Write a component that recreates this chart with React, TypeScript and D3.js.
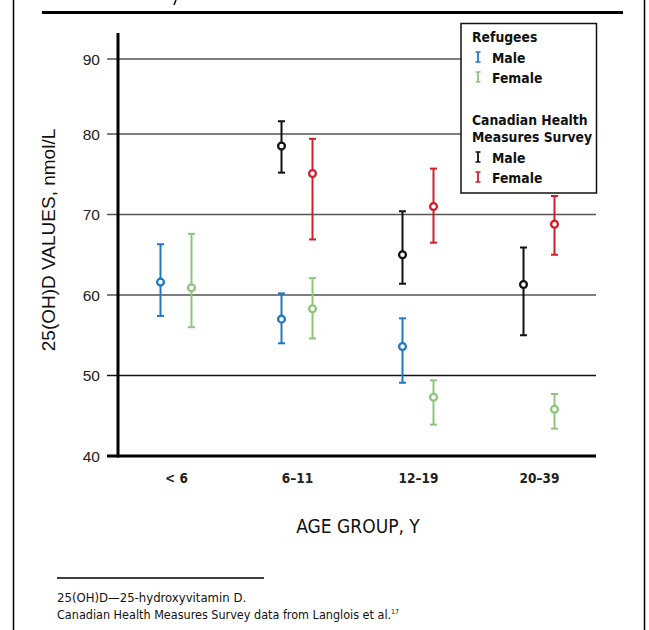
import * as d3 from 'd3';
import React, { useEffect, useRef } from 'react';

// Age groups on the x axis
const ageGroups = ['< 6', '6–11', '12–19', '20–39'];
const yTicks = [40, 50, 60, 70, 80, 90];

// [mean, lower, upper] per age group, null where there is no data
const refugeesMale = [[61.6, 57.4, 66.3], [57.0, 54.0, 60.2], [53.6, 49.1, 57.1], null];
const refugeesFemale = [[60.9, 56.0, 67.6], [58.3, 54.6, 62.1], [47.3, 43.9, 49.4], [45.8, 43.4, 47.7]];
const chmsMale = [null, [78.5, 75.2, 81.7], [65.0, 61.4, 70.4], [61.3, 55.0, 65.9]];
const chmsFemale = [null, [75.1, 66.9, 79.4], [71.0, 66.5, 75.7], [68.8, 65.0, 72.3]];

const BLUE = '#1f78c1';
const GREEN = '#8fc47c';
const RED = '#cf1f2c';
const BLACK = '#111';

const condensed = '"DejaVu Sans Condensed", "DejaVu Sans", sans-serif';
const plain = '"Liberation Sans", Arial, sans-serif';

export default function App() {
  const svgRef = useRef<SVGSVGElement>(null);

  const width = 649;
  const height = 630;

  useEffect(() => {
    const svg = d3.select(svgRef.current);
    svg.selectAll('*').remove();

    // frame
    svg.append('line').attr('x1', 13.5).attr('x2', 13.5).attr('y1', 0).attr('y2', height)
      .attr('stroke', '#000').attr('stroke-width', 1.5);
    svg.append('line').attr('x1', 644.5).attr('x2', 644.5).attr('y1', 0).attr('y2', height)
      .attr('stroke', '#000').attr('stroke-width', 1.5);
    svg.append('line').attr('x1', 42).attr('x2', 623).attr('y1', 12.5).attr('y2', 12.5)
      .attr('stroke', '#000').attr('stroke-width', 3.2);
    // tail of the cut-off title glyph
    svg.append('path').attr('d', 'M176,0 L174,5').attr('stroke', '#000').attr('stroke-width', 1.4);

    const x = d3.scaleBand<string>().domain(ageGroups).range([116, 600]);
    const inner = d3.scalePoint<string>().domain(['left', 'right']).range([-16, 15]);
    const y = d3.scaleLinear().domain([40, 80, 90]).range([456, 134, 59]);

    const left = 118;
    const right = 596;

    // grid + ticks
    const grid = svg.append('g');
    yTicks.filter(t => t > 40).forEach(t => {
      grid.append('line')
        .attr('x1', left - 11).attr('x2', right)
        .attr('y1', y(t)).attr('y2', y(t))
        .attr('stroke', t === 50 ? '#111' : '#555')
        .attr('stroke-width', 1.3);
    });
    svg.append('g').selectAll('text')
      .data(yTicks)
      .enter()
      .append('text')
      .attr('x', 100)
      .attr('y', d => y(d) + 5.5)
      .attr('text-anchor', 'end')
      .attr('font-family', plain)
      .attr('font-size', 15.5)
      .attr('fill', '#222')
      .text(d => d);

    // axes
    svg.append('line').attr('x1', left).attr('x2', left).attr('y1', 33).attr('y2', 457.5)
      .attr('stroke', '#000').attr('stroke-width', 3);
    svg.append('line').attr('x1', left - 11).attr('x2', right).attr('y1', 456).attr('y2', 456)
      .attr('stroke', '#000').attr('stroke-width', 3);

    // x tick labels
    svg.append('g').selectAll('text')
      .data(ageGroups)
      .enter()
      .append('text')
      .attr('x', d => (x(d) as number) + x.bandwidth() / 2)
      .attr('y', 483)
      .attr('text-anchor', 'middle')
      .attr('font-family', condensed)
      .attr('font-weight', 'bold')
      .attr('font-size', 13.5)
      .attr('fill', '#222')
      .text(d => d);

    // axis titles
    svg.append('text')
      .attr('x', 358).attr('y', 533)
      .attr('text-anchor', 'middle')
      .attr('font-family', condensed)
      .attr('font-size', 19)
      .attr('fill', '#111')
      .text('AGE GROUP, Y');
    svg.append('text')
      .attr('transform', 'translate(55,240) rotate(-90)')
      .attr('text-anchor', 'middle')
      .attr('font-family', plain)
      .attr('font-size', 19)
      .attr('fill', '#111')
      .text('25(OH)D VALUES, nmol/L');

    // legend (drawn over grid)
    const lg = svg.append('g');
    lg.append('rect').attr('x', 461).attr('y', 23.5).attr('width', 135.5).attr('height', 169.5)
      .attr('fill', '#fff').attr('stroke', '#111').attr('stroke-width', 1.5);
    const legendText = (tx: number, ty: number, s: string) =>
      lg.append('text').attr('x', tx).attr('y', ty)
        .attr('font-family', condensed).attr('font-weight', 'bold')
        .attr('font-size', 13.8).attr('fill', '#111').text(s);
    const legendIcon = (cy: number, color: string) => {
      lg.append('line').attr('x1', 478).attr('x2', 478).attr('y1', cy - 5).attr('y2', cy + 5)
        .attr('stroke', color).attr('stroke-width', 1.8);
      [cy - 5, cy + 5].forEach(v => {
        lg.append('line').attr('x1', 475.5).attr('x2', 480.5).attr('y1', v).attr('y2', v)
          .attr('stroke', color).attr('stroke-width', 1.5);
      });
    };
    legendText(472, 42, 'Refugees');
    legendIcon(57, BLUE); legendText(492, 63, 'Male');
    legendIcon(77, GREEN); legendText(492, 83, 'Female');
    legendText(472, 125, 'Canadian Health');
    legendText(472, 142, 'Measures Survey');
    legendIcon(157, BLACK); legendText(492, 163, 'Male');
    legendIcon(177, RED); legendText(492, 183, 'Female');

    // error bars
    const series = [
      { data: refugeesMale, color: BLUE, side: 'left' },
      { data: refugeesFemale, color: GREEN, side: 'right' },
      { data: chmsMale, color: BLACK, side: 'left' },
      { data: chmsFemale, color: RED, side: 'right' },
    ];
    series.forEach(s => {
      const pts = s.data
        .map((v, i) => ({ v, g: ageGroups[i] }))
        .filter(d => d.v !== null) as { v: number[]; g: string }[];
      const g = svg.append('g');
      const cx = (d: { g: string }) => (x(d.g) as number) + x.bandwidth() / 2 + (inner(s.side) as number);
      g.selectAll('line.bar').data(pts).enter().append('line')
        .attr('x1', cx).attr('x2', cx)
        .attr('y1', d => y(d.v[1])).attr('y2', d => y(d.v[2]))
        .attr('stroke', s.color).attr('stroke-width', 2);
      [1, 2].forEach(k => {
        g.selectAll('line.cap' + k).data(pts).enter().append('line')
          .attr('x1', d => cx(d) - 3.5).attr('x2', d => cx(d) + 3.5)
          .attr('y1', d => y(d.v[k])).attr('y2', d => y(d.v[k]))
          .attr('stroke', s.color).attr('stroke-width', 2);
      });
      g.selectAll('circle').data(pts).enter().append('circle')
        .attr('cx', cx).attr('cy', d => y(d.v[0])).attr('r', 3.4)
        .attr('fill', '#fff').attr('stroke', s.color).attr('stroke-width', 2.3);
    });

    // footnote
    svg.append('line').attr('x1', 57).attr('x2', 264).attr('y1', 578).attr('y2', 578)
      .attr('stroke', '#000').attr('stroke-width', 1.5);
    svg.append('text').attr('x', 57).attr('y', 602)
      .attr('font-family', condensed).attr('font-size', 13).attr('fill', '#111')
      .text('25(OH)D—25-hydroxyvitamin D.');
    const fn = svg.append('text').attr('x', 57).attr('y', 619)
      .attr('font-family', condensed).attr('font-size', 12.5).attr('fill', '#111')
      .text('Canadian Health Measures Survey data from Langlois et al.');
    fn.append('tspan').attr('dy', -5).attr('font-size', 7).text('17');
  }, []);

  return (
    <div style={{ position: 'absolute', left: 0, top: 0 }}>
      <svg ref={svgRef} width={width} height={height} style={{ display: 'block', background: '#fff' }}></svg>
    </div>
  );
}
